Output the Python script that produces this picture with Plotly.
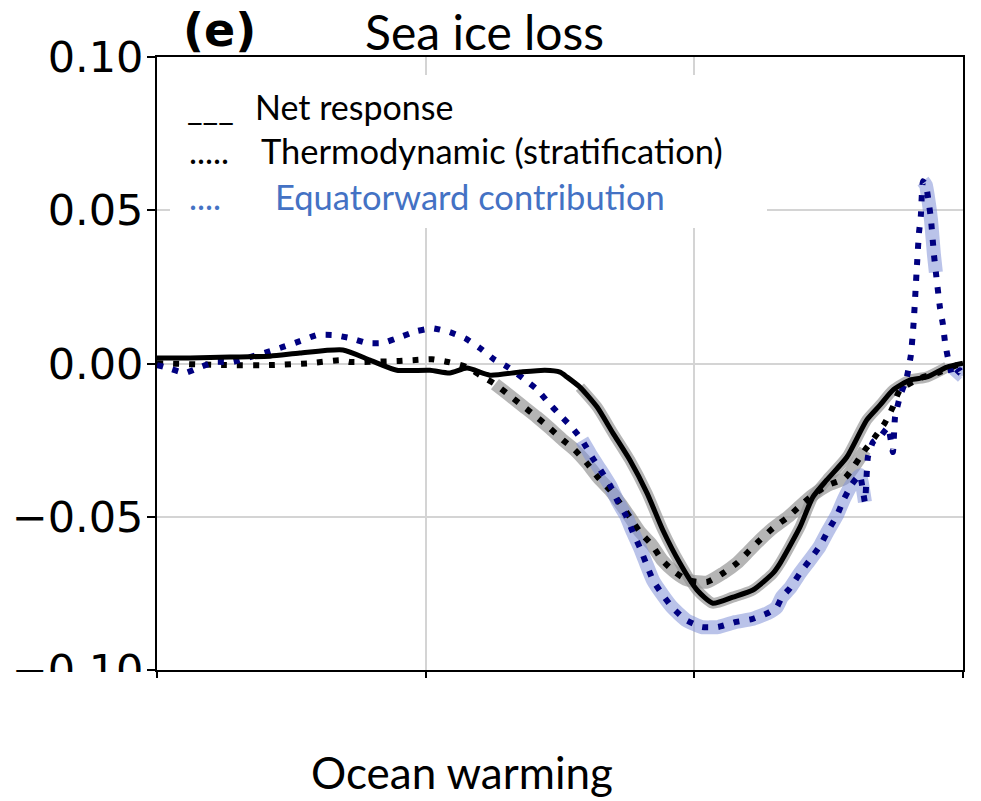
import plotly.graph_objects as go

# ---------------- data ----------------
net_x = [0.0, 0.123, 0.272, 0.421, 0.532, 0.692, 0.793, 0.893, 1.016, 1.090, 1.154, 1.239,
         1.351, 1.444, 1.500, 1.526, 1.574, 1.638, 1.697, 1.760, 1.824, 1.883, 1.946, 2.010,
         2.069, 2.144, 2.218, 2.293, 2.319, 2.393, 2.441, 2.493, 2.568, 2.642, 2.691, 2.739,
         2.802, 2.866, 2.940, 3.0]
net_y = [0.0018, 0.0018, 0.0021, 0.0024, 0.0034, 0.0044, 0.0011, -0.0022, -0.0022, -0.0031,
         -0.0015, -0.0038, -0.0028, -0.0022, -0.0028, -0.0044, -0.0077, -0.0142, -0.0227,
         -0.0315, -0.0423, -0.0544, -0.0651, -0.0739, -0.0782, -0.0762, -0.0739, -0.0684,
         -0.0652, -0.0534, -0.0436, -0.0380, -0.0305, -0.0184, -0.0136, -0.0087, -0.0054,
         -0.0044, -0.0012, 0.0001]

thermo_x = [0.0, 0.246, 0.432, 0.569, 0.685, 0.718, 0.893, 0.953, 1.023, 1.083, 1.154, 1.202,
            1.258, 1.306, 1.362, 1.414, 1.462, 1.511, 1.555, 1.600, 1.641, 1.686, 1.723, 1.760,
            1.798, 1.842, 1.880, 1.928, 1.976, 2.047, 2.107, 2.159, 2.200, 2.244, 2.293, 2.348,
            2.393, 2.441, 2.497, 2.560, 2.635, 2.672, 2.709, 2.739, 2.765, 2.840, 2.914, 2.988,
            3.0]
thermo_y = [0.0001, -0.0005, -0.0005, 0.0001, 0.0011, 0.0005, 0.0008, 0.0011, 0.0014, 0.0005,
            -0.0012, -0.0038, -0.0067, -0.0100, -0.0139, -0.0175, -0.0211, -0.0250, -0.0282,
            -0.0325, -0.0371, -0.0413, -0.0455, -0.0501, -0.0550, -0.0592, -0.0641, -0.0681,
            -0.0707, -0.0713, -0.0684, -0.0651, -0.0615, -0.0576, -0.0537, -0.0501, -0.0465,
            -0.0429, -0.0397, -0.0374, -0.0282, -0.0240, -0.0194, -0.0142, -0.0087, -0.0048,
            -0.0028, -0.0002, 0.0]

eq_x = [0.0, 0.041, 0.104, 0.160, 0.216, 0.283, 0.346, 0.409, 0.469, 0.532, 0.595, 0.655,
        0.718, 0.782, 0.841, 0.904, 0.968, 1.027, 1.090, 1.146, 1.202, 1.254, 1.306, 1.362,
        1.414, 1.455, 1.500, 1.544, 1.582, 1.619, 1.649, 1.686, 1.716, 1.745, 1.771, 1.798,
        1.820, 1.846, 1.883, 1.920, 1.969, 2.028, 2.088, 2.151, 2.214, 2.274, 2.307, 2.326,
        2.356, 2.393, 2.430, 2.467, 2.497, 2.531, 2.557, 2.587, 2.616, 2.635, 2.646, 2.665,
        2.691, 2.721, 2.739, 2.747, 2.765, 2.791, 2.806, 2.817, 2.828, 2.836, 2.843, 2.851,
        2.862, 2.873, 2.881, 2.892, 2.899, 2.914, 2.925, 2.933, 2.944, 2.962, 2.988, 3.0]
eq_y = [-0.0005, -0.0015, -0.0031, -0.0012, 0.0005, 0.0005, 0.0021, 0.0037, 0.0054, 0.0073,
        0.0093, 0.0093, 0.0083, 0.0067, 0.0067, 0.0086, 0.0106, 0.0115, 0.0102, 0.0083, 0.0050,
        0.0014, -0.0012, -0.0048, -0.0084, -0.0126, -0.0168, -0.0208, -0.0250, -0.0305,
        -0.0345, -0.0397, -0.0452, -0.0495, -0.0550, -0.0602, -0.0651, -0.0707, -0.0756,
        -0.0798, -0.0837, -0.0860, -0.0860, -0.0844, -0.0834, -0.0814, -0.0795, -0.0762,
        -0.0733, -0.0684, -0.0641, -0.0596, -0.0547, -0.0495, -0.0442, -0.0393, -0.0364,
        -0.0452, -0.0305, -0.0256, -0.0240, -0.0208, -0.0289, -0.0175, -0.0109, -0.0044,
        0.0027, 0.0142, 0.0311, 0.0425, 0.0481, 0.0595, 0.0582, 0.0523, 0.0468, 0.0354,
        0.0298, 0.0184, 0.0129, 0.0070, 0.0018, -0.0044, -0.0022, -0.0040]

# x-ranges where each curve carries its shaded (significance) band
net_sig = [(1.57, 2.95)]
thermo_sig = [(1.25, 2.66)]
eq_sig = [(1.58, 2.64), (2.85, 2.90), (2.96, 3.0)]

y_tickvals = [-0.10, -0.05, 0.0, 0.05, 0.10]
y_ticktext = ["\u22120.10", "\u22120.05", "0.00", "0.05", "0.10"]
x_tickvals = [0, 1, 2, 3]

title_text = "Sea ice loss"
panel_label = "(e)"
xlabel_text = "Ocean warming"
legend_rows = [("___", "Net response", "black"),
               (".....", "Thermodynamic (stratification)", "black"),
               ("....", "Equatorward contribution", "#4472C4")]

# ---------------- figure ----------------
def masked(xs, ys, ranges):
    out = []
    for x, y in zip(xs, ys):
        keep = any(a <= x <= b for a, b in ranges)
        out.append(y if keep else None)
    return out

fig = go.Figure()
# shaded bands
fig.add_trace(go.Scatter(x=thermo_x, y=masked(thermo_x, thermo_y, thermo_sig), mode="lines",
                         line=dict(color="rgba(150,150,150,0.7)", width=13, shape="spline",
                                   smoothing=0.6), hoverinfo="skip"))
fig.add_trace(go.Scatter(x=net_x, y=masked(net_x, net_y, net_sig), mode="lines",
                         line=dict(color="rgba(150,150,150,0.7)", width=11, shape="spline",
                                   smoothing=0.6), hoverinfo="skip"))
fig.add_trace(go.Scatter(x=eq_x, y=masked(eq_x, eq_y, eq_sig), mode="lines",
                         line=dict(color="rgba(130,146,215,0.55)", width=14, shape="spline",
                                   smoothing=0.4), hoverinfo="skip"))
# curves
fig.add_trace(go.Scatter(x=thermo_x, y=thermo_y, mode="lines", name="Thermodynamic",
                         line=dict(color="black", width=6, dash="6px,10px", shape="spline",
                                   smoothing=0.6)))
fig.add_trace(go.Scatter(x=eq_x, y=eq_y, mode="lines", name="Equatorward",
                         line=dict(color="#000080", width=6, dash="6px,10px", shape="spline",
                                   smoothing=0.4)))
fig.add_trace(go.Scatter(x=net_x, y=net_y, mode="lines", name="Net",
                         line=dict(color="black", width=5, shape="spline", smoothing=0.6)))

# the page's body margin is removed by a post script
W, H = 981, 801
L, T = 157, 57
R = W - 963
B = H - 670

def px(xs):  # reference screen x -> paper
    return (xs - 157) / (963 - 157)

def py(ys):  # reference screen y -> paper
    return (670 - ys) / (670 - 57)

fig.update_layout(
    width=W, height=H, margin=dict(l=L, r=R, t=T, b=B, pad=0),
    plot_bgcolor="white", paper_bgcolor="white", showlegend=False,
    xaxis=dict(range=[0, 3], tickvals=x_tickvals, showticklabels=False, ticks="outside",
               ticklen=6, tickwidth=1.5, tickcolor="black", showgrid=True,
               gridcolor="#d4d4d4", gridwidth=1.5, showline=True, linecolor="black",
               linewidth=2, mirror=True, zeroline=False),
    yaxis=dict(range=[-0.1, 0.1], tickvals=y_tickvals, ticktext=y_ticktext, ticks="outside",
               ticklen=8, tickwidth=1.5, tickcolor="black", ticklabelstandoff=-5,
               tickfont=dict(family="DejaVu Sans", size=43, color="black"),
               showgrid=True, gridcolor="#d4d4d4", gridwidth=1.5, showline=True,
               linecolor="black", linewidth=2, mirror=True, zeroline=False),
)

shapes = [
    # white background of the legend text block
    dict(type="rect", xref="paper", yref="paper", x0=px(170), x1=px(767), y0=py(228), y1=py(75),
         fillcolor="white", line=dict(width=0), layer="above"),
    # crop of the lowest tick label
    dict(type="rect", xref="paper", yref="paper", x0=px(0), x1=px(147), y0=py(760), y1=py(672),
         fillcolor="white", line=dict(width=0), layer="above"),
]
fig.update_layout(shapes=shapes)

office = "Lato"
ann = []
ann.append(dict(text="<b>" + panel_label + "</b>", x=px(181), y=py(30), xref="paper", yref="paper",
                xanchor="left", yanchor="middle", showarrow=False,
                font=dict(family="DejaVu Sans", size=46, color="black")))
ann.append(dict(text=title_text, x=px(484), y=py(32), xref="paper", yref="paper",
                xanchor="center", yanchor="middle", showarrow=False,
                font=dict(family=office, size=48, color="black")))
ann.append(dict(text=xlabel_text, x=px(462), y=py(772), xref="paper", yref="paper",
                xanchor="center", yanchor="middle", showarrow=False,
                font=dict(family=office, size=44, color="black")))
row_y = [107, 151, 197]
text_x = [253, 259, 273]
pre_x = [185, 187, 187]
sizes = [34, 34.5, 34.5]
for (pre, txt, col), yy, tx, prx, fs in zip(legend_rows, row_y, text_x, pre_x, sizes):
    ann.append(dict(text=pre, x=px(prx), y=py(yy), xref="paper", yref="paper",
                    xanchor="left", yanchor="middle", showarrow=False,
                    font=dict(family=office, size=34, color=col)))
    ann.append(dict(text=txt, x=px(tx), y=py(yy), xref="paper", yref="paper",
                    xanchor="left", yanchor="middle", showarrow=False,
                    font=dict(family=office, size=fs, color=col)))
fig.update_layout(annotations=ann)

fig.write_html("out.html", config={"displayModeBar": False},
               post_script="document.body.style.margin='0px';document.body.style.overflow='hidden';")
